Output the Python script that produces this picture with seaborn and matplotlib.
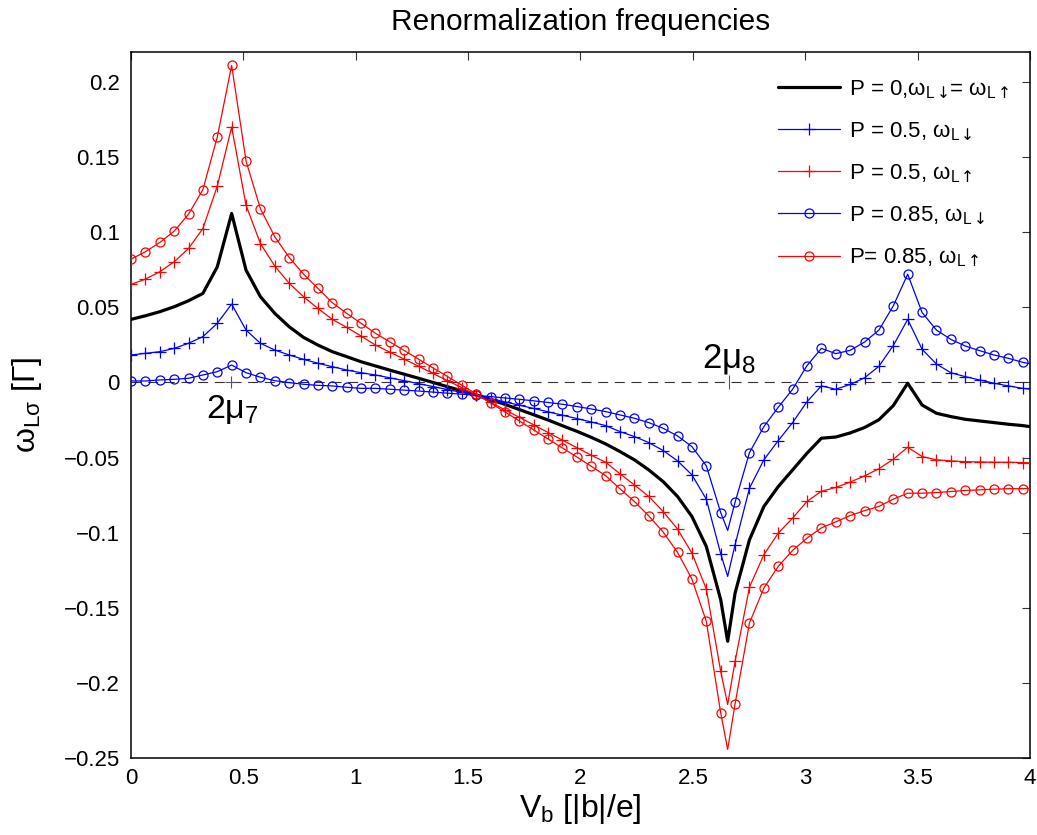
# Renormalization frequencies vs bias voltage
import matplotlib
matplotlib.use("Agg")
import matplotlib.pyplot as plt
from matplotlib.lines import Line2D
from matplotlib.ticker import FuncFormatter, MultipleLocator
import numpy as np
import pandas as pd
import seaborn as sns

# V_b positions of the markers (one every 0.064)
vb = np.arange(63) * 0.064

# omega_L sigma read at the marker positions
p0 = [0.0420, 0.0444, 0.0471, 0.0504, 0.0544, 0.0593, 0.0770, 0.1125, 0.0748, 0.0571,
      0.0460, 0.0371, 0.0300, 0.0249, 0.0205, 0.0172, 0.0138, 0.0110,
      0.0082, 0.0055, 0.0028, 0.0000, -0.0028, -0.0055, -0.0083, -0.0113, -0.0146,
      -0.0180, -0.0215, -0.0250, -0.0288, -0.0325, -0.0365,
      -0.0409, -0.0460, -0.0515, -0.0582, -0.0660, -0.0759, -0.0892, -0.1092, -0.1446,
      -0.1402, -0.1047, -0.0826, -0.0693, -0.0582, -0.0471,
      -0.0371, -0.0363, -0.0336, -0.0300, -0.0248, -0.0154, -0.0005, -0.0150, -0.0205,
      -0.0227, -0.0245, -0.0256, -0.0267, -0.0278, -0.0287]
dn_05 = [0.0183, 0.0194, 0.0205, 0.0227, 0.0261, 0.0305, 0.0394, 0.0522, 0.0349, 0.0261,
         0.0216, 0.0183, 0.0154, 0.0128, 0.0105, 0.0083, 0.0065, 0.0050,
         0.0031, 0.0012, -0.0008, -0.0027, -0.0047, -0.0066, -0.0086, -0.0107, -0.0129,
         -0.0151, -0.0173, -0.0195, -0.0218, -0.0240, -0.0263,
         -0.0287, -0.0327, -0.0360, -0.0400, -0.0453, -0.0522, -0.0615, -0.0777, -0.1140,
         -0.1080, -0.0704, -0.0515, -0.0387, -0.0267, -0.0128,
         -0.0023, -0.0045, -0.0013, 0.0031, 0.0108, 0.0246, 0.0420, 0.0221, 0.0123,
         0.0065, 0.0039, 0.0017, -0.0005, -0.0023, -0.0039]
up_05 = [0.0653, 0.0688, 0.0737, 0.0803, 0.0892, 0.1025, 0.1307, 0.1701, 0.1180, 0.0925,
         0.0775, 0.0660, 0.0571, 0.0493, 0.0420, 0.0367, 0.0309, 0.0249,
         0.0202, 0.0155, 0.0108, 0.0060, 0.0013, -0.0035, -0.0083, -0.0132, -0.0182,
         -0.0232, -0.0282, -0.0333, -0.0384, -0.0434, -0.0484,
         -0.0531, -0.0608, -0.0682, -0.0759, -0.0859, -0.0976, -0.1136, -0.1375, -0.1923,
         -0.1856, -0.1362, -0.1147, -0.1003, -0.0903, -0.0792,
         -0.0724, -0.0699, -0.0663, -0.0622, -0.0574, -0.0511, -0.0431, -0.0493, -0.0515,
         -0.0522, -0.0527, -0.0529, -0.0531, -0.0531, -0.0533]
dn_085 = [0.0010, 0.0010, 0.0017, 0.0021, 0.0028, 0.0050, 0.0072, 0.0116, 0.0065, 0.0035,
          0.0012, -0.0001, -0.0012, -0.0019, -0.0023, -0.0032, -0.0039, -0.0039,
          -0.0045, -0.0051, -0.0057, -0.0064, -0.0071, -0.0078, -0.0086, -0.0094, -0.0103,
          -0.0112, -0.0122, -0.0133, -0.0145, -0.0160, -0.0176,
          -0.0194, -0.0216, -0.0238, -0.0267, -0.0305, -0.0356, -0.0427, -0.0555, -0.0866,
          -0.0797, -0.0467, -0.0294, -0.0165, -0.0045, 0.0112,
          0.0227, 0.0192, 0.0214, 0.0269, 0.0349, 0.0510, 0.0721, 0.0466, 0.0349,
          0.0287, 0.0243, 0.0212, 0.0183, 0.0161, 0.0134]
up_085 = [0.0821, 0.0870, 0.0932, 0.1007, 0.1120, 0.1284, 0.1634, 0.2111, 0.1475, 0.1156,
          0.0970, 0.0832, 0.0721, 0.0626, 0.0531, 0.0460, 0.0394, 0.0327,
          0.0270, 0.0213, 0.0155, 0.0097, 0.0040, -0.0018, -0.0076, -0.0136, -0.0196,
          -0.0256, -0.0316, -0.0376, -0.0436, -0.0496, -0.0558,
          -0.0620, -0.0708, -0.0792, -0.0888, -0.0996, -0.1131, -0.1309, -0.1590, -0.2200,
          -0.2140, -0.1601, -0.1369, -0.1224, -0.1118, -0.1036,
          -0.0968, -0.0928, -0.0886, -0.0853, -0.0825, -0.0777, -0.0737, -0.0737, -0.0733,
          -0.0726, -0.0719, -0.0715, -0.0710, -0.0707, -0.0707]

# line-only points: bottom of the 2mu_8 dip and the right edge
vb_extra = [2.655, 4.0]
p0_extra = [-0.1723, -0.0294]
dn_05_extra = [-0.1291, -0.0045]
up_05_extra = [-0.2144, -0.0535]
dn_085_extra = [-0.0985, 0.0125]
up_085_extra = [-0.2443, -0.0705]

labels = ["P = 0,ω$_{L\\,\\mathsf{↓}}$= ω$_{L\\,\\mathsf{↑}}$",
          "P = 0.5, ω$_{L\\,\\mathsf{↓}}$",
          "P = 0.5, ω$_{L\\,\\mathsf{↑}}$",
          "P = 0.85, ω$_{L\\,\\mathsf{↓}}$",
          "P= 0.85, ω$_{L\\,\\mathsf{↑}}$"]

sns.set_style("white")
plt.rcParams["font.family"] = ["Liberation Sans", "DejaVu Sans"]
plt.rcParams["mathtext.fontset"] = "custom"
plt.rcParams["mathtext.rm"] = "Liberation Sans"
plt.rcParams["mathtext.it"] = "Liberation Sans:italic"
plt.rcParams["mathtext.bf"] = "Liberation Sans:bold"
plt.rcParams["mathtext.sf"] = "Noto Sans CJK SC"   # taller spin arrows
plt.rcParams["mathtext.default"] = "regular"
plt.rcParams["axes.unicode_minus"] = True
for key in ["text.color", "axes.labelcolor", "xtick.labelcolor", "ytick.labelcolor"]:
    plt.rcParams[key] = "black"


def curve(vals, extra):
    x = np.concatenate([vb, vb_extra])
    y = np.concatenate([vals, extra])
    order = np.argsort(x, kind="stable")
    df = pd.DataFrame({"vb": x[order], "w": y[order]})
    marks = [int(i) for i in np.where(order < len(vb))[0]]
    return df, marks


fig = plt.figure(figsize=(10.37, 8.35), dpi=100)
ax = fig.add_axes([0.1263, 0.0922, 0.8669, 0.8455])

# zero line with the two resonance positions
ax.axhline(0, color="#333333", lw=0.8, dashes=(9, 6), zorder=1)
ax.plot([0.445], [0], marker="+", ms=9, mew=0.8, color="#555555", zorder=1)
ax.plot([2.66], [0], marker="|", ms=10, mew=0.8, color="#555555", zorder=1)

series = [
    (p0, p0_extra, "black", None, 2.3),
    (dn_05, dn_05_extra, "#0000ff", "+", 0.9),
    (up_05, up_05_extra, "#ff0000", "+", 0.9),
    (dn_085, dn_085_extra, "#0000ff", "o", 0.9),
    (up_085, up_085_extra, "#ff0000", "o", 0.9),
]

handles = []
for (vals, extra, c, m, lw), lab in zip(series, labels):
    df, marks = curve(vals, extra)
    kw = dict(color=c, lw=lw, sort=False, estimator=None, ax=ax, zorder=3)
    if m is not None:
        ms = 9 if m == "+" else 6.5
        kw.update(marker=m, markevery=marks, markersize=ms, markerfacecolor="none",
                  markeredgecolor=c, markeredgewidth=0.9)
    sns.lineplot(data=df, x="vb", y="w", **kw)
    handles.append(Line2D([], [], color=c, lw=lw, marker=m if m else "None",
                          markersize=9 if m == "+" else 6.5, markerfacecolor="none",
                          markeredgecolor=c, markeredgewidth=0.9))

ax.set_xlim(0, 4)
ax.set_ylim(-0.25, 0.22)
ax.xaxis.set_major_locator(MultipleLocator(0.5))
ax.yaxis.set_major_locator(MultipleLocator(0.05))
fmt = FuncFormatter(lambda v, p: f"{round(v, 4) + 0:g}".replace("-", "\u2212"))
ax.xaxis.set_major_formatter(fmt)
ax.yaxis.set_major_formatter(fmt)
ax.tick_params(direction="in", length=6, width=0.8, top=True, right=True,
               labelsize=16, color="#333333", labelcolor="black")
ax.tick_params(axis="x", pad=7)
ax.tick_params(axis="y", pad=8)
for s in ax.spines.values():
    s.set_linewidth(1.1)
    s.set_color("black")

ax.text(0.45, -0.007, "2μ$_7$", fontsize=24.5, ha="center", va="top")
ax.text(2.66, 0.004, "2μ$_8$", fontsize=25, ha="center", va="bottom")

ax.set_xlabel("V$_b$ [|b|/e]", fontsize=23, labelpad=2)
ax.set_ylabel("ω$_{Lσ}$ [Γ]", fontsize=23, labelpad=14)
ax.set_title("Renormalization frequencies", fontsize=21.5, pad=16)

ax.legend(handles, labels, loc="upper left", bbox_to_anchor=(0.72, 0.963),
          frameon=False, fontsize=16, handlelength=2.8, handletextpad=0.4,
          labelspacing=0.9, borderpad=0, borderaxespad=0)

plt.savefig("out.png", dpi=100)
